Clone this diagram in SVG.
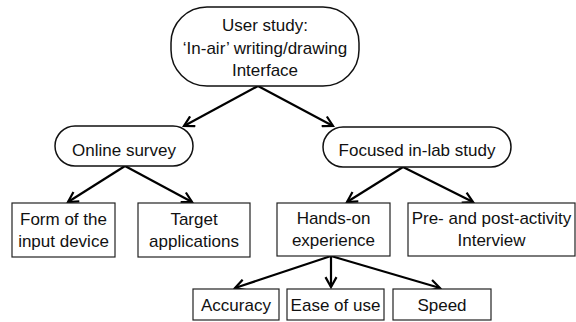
<svg xmlns="http://www.w3.org/2000/svg" width="576" height="322" viewBox="0 0 576 322">
<defs>
<style>
text{font-family:"Liberation Sans",Arial,sans-serif;font-size:17px;fill:#111;text-anchor:middle}
.box{fill:#fff;stroke:#222;stroke-width:1.2}
.pill{fill:#fff;stroke:#111;stroke-width:1.5}
.edge{stroke:#000;stroke-width:2.2;fill:none;marker-end:url(#arr)}
</style>
<marker id="arr" viewBox="0 0 12 12" refX="10" refY="6" markerWidth="6" markerHeight="6" markerUnits="strokeWidth" orient="auto">
<path d="M1,1 L10,6 L1,11" fill="none" stroke="#000" stroke-width="2"/>
</marker>
</defs>
<rect width="576" height="322" fill="#fff"/>
<g id="connectors">
<line class="edge" x1="258" y1="86" x2="184" y2="126"/>
<line class="edge" x1="258" y1="86" x2="333" y2="126"/>
<line class="edge" x1="125" y1="166" x2="68" y2="202"/>
<line class="edge" x1="125" y1="166" x2="192" y2="202"/>
<line class="edge" x1="403" y1="167" x2="347" y2="202"/>
<line class="edge" x1="403" y1="167" x2="473" y2="202"/>
<line class="edge" x1="331" y1="256" x2="235" y2="288"/>
<line class="edge" x1="331" y1="256" x2="331" y2="287"/>
<line class="edge" x1="331" y1="256" x2="440" y2="288"/>
</g>
<g id="user-study">
<rect class="pill" x="171" y="7" width="188" height="79" rx="36" ry="36"/>
<text x="265" y="31">User study:</text>
<text x="265" y="54">‘In-air’ writing/drawing</text>
<text x="265" y="76">Interface</text>
</g>
<g id="online-survey">
<rect class="pill" x="55" y="126" width="138" height="40" rx="20" ry="20"/>
<text x="124" y="156">Online survey</text>
</g>
<g id="focused-study">
<rect class="pill" x="323" y="127" width="188" height="40" rx="20" ry="20"/>
<text x="417" y="156">Focused in-lab study</text>
</g>
<g id="form-device">
<rect class="box" x="12" y="203" width="103" height="54"/>
<text x="63.5" y="225">Form of the</text>
<text x="63.5" y="247">input device</text>
</g>
<g id="target-apps">
<rect class="box" x="138" y="203" width="112" height="54"/>
<text x="194" y="225">Target</text>
<text x="194" y="247">applications</text>
</g>
<g id="hands-on">
<rect class="box" x="277" y="203" width="113" height="53"/>
<text x="333.5" y="224">Hands-on</text>
<text x="333.5" y="246">experience</text>
</g>
<g id="interview">
<rect class="box" x="408" y="203" width="167" height="53"/>
<text x="491.5" y="224">Pre- and post-activity</text>
<text x="491.5" y="246">Interview</text>
</g>
<g id="accuracy">
<rect class="box" x="193" y="289" width="86" height="31"/>
<text x="236" y="311">Accuracy</text>
</g>
<g id="ease-of-use">
<rect class="box" x="287" y="289" width="97" height="31"/>
<text x="335.5" y="311">Ease of use</text>
</g>
<g id="speed">
<rect class="box" x="393" y="289" width="98" height="31"/>
<text x="442" y="311">Speed</text>
</g>
</svg>
